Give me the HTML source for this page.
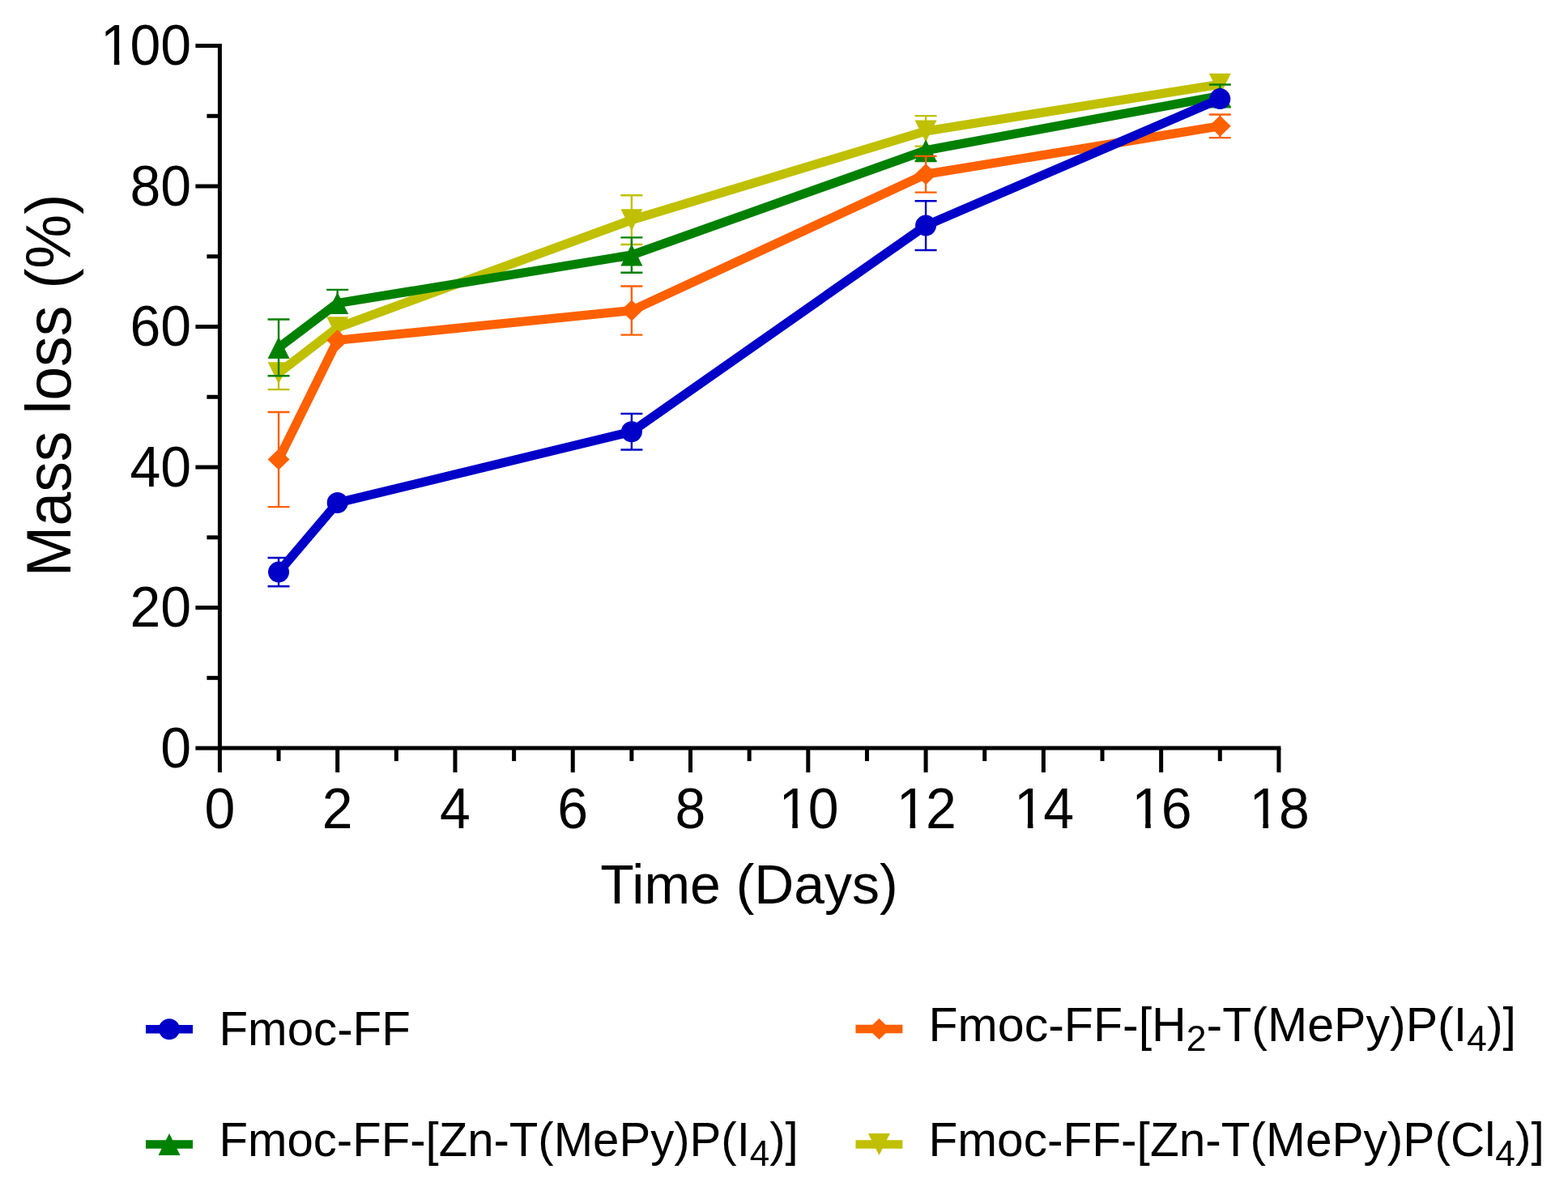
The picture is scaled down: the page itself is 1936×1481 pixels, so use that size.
<!DOCTYPE html>
<html><head><meta charset="utf-8"><title>Mass loss</title>
<style>html,body{margin:0;padding:0;background:#fff;overflow:hidden;width:1936px;height:1481px;}svg{display:block;}text{font-family:"Liberation Sans",Arial,sans-serif;fill:#000;}</style>
</head><body>
<svg width="1936" height="1481" viewBox="0 0 1936 1481">
<rect x="0" y="0" width="1936" height="1481" fill="#fff"/>
<g id="data"><path d="M344.04,460.80V481.10M330.54,481.10H357.54" stroke="#C0C000" stroke-width="2.4" fill="none"/><path d="M779.88,271.66V241.30M766.38,241.30H793.38M779.88,271.66V302.03M766.38,302.03H793.38" stroke="#C0C000" stroke-width="2.4" fill="none"/><path d="M1143.08,161.91V143.17M1129.58,143.17H1156.58M1143.08,161.91V180.65M1129.58,180.65H1156.58" stroke="#C0C000" stroke-width="2.4" fill="none"/><polyline points="344.04,460.80 416.68,404.75 779.88,271.66 1143.08,161.91 1506.28,104.22" stroke="#C0C000" stroke-width="11.2" fill="none" stroke-linejoin="miter" stroke-linecap="butt"/><polygon points="330.54,447.30 357.54,447.30 344.04,474.30" fill="#C0C000"/><polygon points="403.18,391.25 430.18,391.25 416.68,418.25" fill="#C0C000"/><polygon points="766.38,258.16 793.38,258.16 779.88,285.16" fill="#C0C000"/><polygon points="1129.58,148.41 1156.58,148.41 1143.08,175.41" fill="#C0C000"/><polygon points="1492.78,90.72 1519.78,90.72 1506.28,117.72" fill="#C0C000"/><path d="M344.04,429.39V394.52M330.54,394.52H357.54M344.04,429.39V464.27M330.54,464.27H357.54" stroke="#008000" stroke-width="2.4" fill="none"/><path d="M416.68,374.56V357.90M403.18,357.90H430.18" stroke="#008000" stroke-width="2.4" fill="none"/><path d="M779.88,315.04V293.35M766.38,293.35H793.38M779.88,315.04V336.73M766.38,336.73H793.38" stroke="#008000" stroke-width="2.4" fill="none"/><path d="M1143.08,185.69V199.13M1129.58,199.13H1156.58" stroke="#008000" stroke-width="2.4" fill="none"/><path d="M1506.28,118.45V104.48M1492.78,104.48H1519.78M1506.28,118.45V132.41M1492.78,132.41H1519.78" stroke="#008000" stroke-width="2.4" fill="none"/><polyline points="344.04,429.39 416.68,374.56 779.88,315.04 1143.08,185.69 1506.28,118.45" stroke="#008000" stroke-width="11.2" fill="none" stroke-linejoin="miter" stroke-linecap="butt"/><polygon points="344.04,415.89 357.54,442.89 330.54,442.89" fill="#008000"/><polygon points="416.68,361.06 430.18,388.06 403.18,388.06" fill="#008000"/><polygon points="779.88,301.54 793.38,328.54 766.38,328.54" fill="#008000"/><polygon points="1143.08,172.19 1156.58,199.19 1129.58,199.19" fill="#008000"/><polygon points="1506.28,104.95 1519.78,131.95 1492.78,131.95" fill="#008000"/><path d="M344.04,567.52V508.95M330.54,508.95H357.54M344.04,567.52V626.08M330.54,626.08H357.54" stroke="#FF6000" stroke-width="2.4" fill="none"/><path d="M779.88,383.59V353.57M766.38,353.57H793.38M779.88,383.59V413.60M766.38,413.60H793.38" stroke="#FF6000" stroke-width="2.4" fill="none"/><path d="M1143.08,215.27V192.89M1129.58,192.89H1156.58M1143.08,215.27V237.65M1129.58,237.65H1156.58" stroke="#FF6000" stroke-width="2.4" fill="none"/><path d="M1506.28,155.84V141.52M1492.78,141.52H1519.78M1506.28,155.84V170.16M1492.78,170.16H1519.78" stroke="#FF6000" stroke-width="2.4" fill="none"/><polyline points="344.04,567.52 416.68,420.28 779.88,383.59 1143.08,215.27 1506.28,155.84" stroke="#FF6000" stroke-width="11.2" fill="none" stroke-linejoin="miter" stroke-linecap="butt"/><polygon points="344.04,554.52 357.54,567.52 344.04,580.52 330.54,567.52" fill="#FF6000"/><polygon points="416.68,407.28 430.18,420.28 416.68,433.28 403.18,420.28" fill="#FF6000"/><polygon points="779.88,370.59 793.38,383.59 779.88,396.59 766.38,383.59" fill="#FF6000"/><polygon points="1143.08,202.27 1156.58,215.27 1143.08,228.27 1129.58,215.27" fill="#FF6000"/><polygon points="1506.28,142.84 1519.78,155.84 1506.28,168.84 1492.78,155.84" fill="#FF6000"/><path d="M344.04,706.59V688.98M330.54,688.98H357.54M344.04,706.59V724.20M330.54,724.20H357.54" stroke="#0000C8" stroke-width="2.4" fill="none"/><path d="M779.88,533.25V511.04M766.38,511.04H793.38M779.88,533.25V555.46M766.38,555.46H793.38" stroke="#0000C8" stroke-width="2.4" fill="none"/><path d="M1143.08,278.61V248.24M1129.58,248.24H1156.58M1143.08,278.61V308.97M1129.58,308.97H1156.58" stroke="#0000C8" stroke-width="2.4" fill="none"/><polyline points="344.04,706.59 416.68,621.05 779.88,533.25 1143.08,278.61 1506.28,122.09" stroke="#0000C8" stroke-width="11.2" fill="none" stroke-linejoin="miter" stroke-linecap="butt"/><circle cx="344.04" cy="706.59" r="13.00" fill="#0000C8"/><circle cx="416.68" cy="621.05" r="13.00" fill="#0000C8"/><circle cx="779.88" cy="533.25" r="13.00" fill="#0000C8"/><circle cx="1143.08" cy="278.61" r="13.00" fill="#0000C8"/><circle cx="1506.28" cy="122.09" r="13.00" fill="#0000C8"/></g>
<g id="axes"><path d="M271.40,54.00V924.10H1581.42" stroke="#000" stroke-width="5.0" fill="none" stroke-linejoin="miter"/><path d="M241.40,924.10H271.40" stroke="#000" stroke-width="5.0"/><path d="M255.40,837.34H271.40" stroke="#000" stroke-width="5.0"/><path d="M241.40,750.58H271.40" stroke="#000" stroke-width="5.0"/><path d="M255.40,663.82H271.40" stroke="#000" stroke-width="5.0"/><path d="M241.40,577.06H271.40" stroke="#000" stroke-width="5.0"/><path d="M255.40,490.30H271.40" stroke="#000" stroke-width="5.0"/><path d="M241.40,403.54H271.40" stroke="#000" stroke-width="5.0"/><path d="M255.40,316.78H271.40" stroke="#000" stroke-width="5.0"/><path d="M241.40,230.02H271.40" stroke="#000" stroke-width="5.0"/><path d="M255.40,143.26H271.40" stroke="#000" stroke-width="5.0"/><path d="M241.40,56.50H271.40" stroke="#000" stroke-width="5.0"/><path d="M271.40,924.10V954.10" stroke="#000" stroke-width="5.0"/><path d="M344.04,924.10V940.10" stroke="#000" stroke-width="5.0"/><path d="M416.68,924.10V954.10" stroke="#000" stroke-width="5.0"/><path d="M489.32,924.10V940.10" stroke="#000" stroke-width="5.0"/><path d="M561.96,924.10V954.10" stroke="#000" stroke-width="5.0"/><path d="M634.60,924.10V940.10" stroke="#000" stroke-width="5.0"/><path d="M707.24,924.10V954.10" stroke="#000" stroke-width="5.0"/><path d="M779.88,924.10V940.10" stroke="#000" stroke-width="5.0"/><path d="M852.52,924.10V954.10" stroke="#000" stroke-width="5.0"/><path d="M925.16,924.10V940.10" stroke="#000" stroke-width="5.0"/><path d="M997.80,924.10V954.10" stroke="#000" stroke-width="5.0"/><path d="M1070.44,924.10V940.10" stroke="#000" stroke-width="5.0"/><path d="M1143.08,924.10V954.10" stroke="#000" stroke-width="5.0"/><path d="M1215.72,924.10V940.10" stroke="#000" stroke-width="5.0"/><path d="M1288.36,924.10V954.10" stroke="#000" stroke-width="5.0"/><path d="M1361.00,924.10V940.10" stroke="#000" stroke-width="5.0"/><path d="M1433.64,924.10V954.10" stroke="#000" stroke-width="5.0"/><path d="M1506.28,924.10V940.10" stroke="#000" stroke-width="5.0"/><path d="M1578.92,924.10V954.10" stroke="#000" stroke-width="5.0"/></g>
<g transform="translate(236.00,947.80) scale(0.9662,1)"><text x="-39.14" y="0" font-size="70.38">0</text></g><g transform="translate(236.00,774.28) scale(0.9662,1)"><text x="-78.28 -39.14" y="0" font-size="70.38">20</text></g><g transform="translate(236.00,600.76) scale(0.9662,1)"><text x="-78.28 -39.14" y="0" font-size="70.38">40</text></g><g transform="translate(236.00,427.24) scale(0.9662,1)"><text x="-78.28 -39.14" y="0" font-size="70.38">60</text></g><g transform="translate(236.00,253.72) scale(0.9662,1)"><text x="-78.28 -39.14" y="0" font-size="70.38">80</text></g><g transform="translate(236.00,80.20) scale(0.9662,1)"><text x="-115.87 -78.28 -39.14" y="0" font-size="70.38">100</text><rect x="-113.01" y="-7.76" width="14.54" height="10.26" fill="#fff"/><rect x="-91.66" y="-7.76" width="14.29" height="10.26" fill="#fff"/></g><g transform="translate(271.40,1022.80) scale(0.9662,1)"><text x="-19.57" y="0" font-size="70.38">0</text></g><g transform="translate(416.68,1022.80) scale(0.9662,1)"><text x="-19.57" y="0" font-size="70.38">2</text></g><g transform="translate(561.96,1022.80) scale(0.9662,1)"><text x="-19.57" y="0" font-size="70.38">4</text></g><g transform="translate(707.24,1022.80) scale(0.9662,1)"><text x="-19.57" y="0" font-size="70.38">6</text></g><g transform="translate(852.52,1022.80) scale(0.9662,1)"><text x="-19.57" y="0" font-size="70.38">8</text></g><g transform="translate(997.80,1022.80) scale(0.9662,1)"><text x="-37.59 0.00" y="0" font-size="70.38">10</text><rect x="-34.73" y="-7.76" width="14.54" height="10.26" fill="#fff"/><rect x="-13.37" y="-7.76" width="14.29" height="10.26" fill="#fff"/></g><g transform="translate(1143.08,1022.80) scale(0.9662,1)"><text x="-37.59 0.00" y="0" font-size="70.38">12</text><rect x="-34.73" y="-7.76" width="14.54" height="10.26" fill="#fff"/><rect x="-13.37" y="-7.76" width="14.29" height="10.26" fill="#fff"/></g><g transform="translate(1288.36,1022.80) scale(0.9662,1)"><text x="-37.59 0.00" y="0" font-size="70.38">14</text><rect x="-34.73" y="-7.76" width="14.54" height="10.26" fill="#fff"/><rect x="-13.37" y="-7.76" width="14.29" height="10.26" fill="#fff"/></g><g transform="translate(1433.64,1022.80) scale(0.9662,1)"><text x="-37.59 0.00" y="0" font-size="70.38">16</text><rect x="-34.73" y="-7.76" width="14.54" height="10.26" fill="#fff"/><rect x="-13.37" y="-7.76" width="14.29" height="10.26" fill="#fff"/></g><g transform="translate(1578.92,1022.80) scale(0.9662,1)"><text x="-37.59 0.00" y="0" font-size="70.38">18</text><rect x="-34.73" y="-7.76" width="14.54" height="10.26" fill="#fff"/><rect x="-13.37" y="-7.76" width="14.29" height="10.26" fill="#fff"/></g>
<text transform="translate(925.0,1115.6) scale(0.979,1)" x="0" y="0" font-size="69.4" text-anchor="middle">Time (Days)</text>
<text transform="translate(86.8,476.05) rotate(-90) scale(0.978,1)" x="0" y="0" font-size="77" text-anchor="middle">Mass loss (%)</text>
<path d="M180.00,1271.30H238.00" stroke="#0000C8" stroke-width="10.5"/><circle cx="209.00" cy="1271.30" r="13.00" fill="#0000C8"/><path d="M1056.50,1271.00H1114.40" stroke="#FF6000" stroke-width="10.5"/><polygon points="1085.45,1258.00 1098.95,1271.00 1085.45,1284.00 1071.95,1271.00" fill="#FF6000"/><path d="M180.00,1413.50H238.00" stroke="#008000" stroke-width="10.5"/><polygon points="209.00,1400.00 222.50,1427.00 195.50,1427.00" fill="#008000"/><path d="M1056.50,1413.50H1114.40" stroke="#C0C000" stroke-width="10.5"/><polygon points="1071.95,1400.00 1098.95,1400.00 1085.45,1427.00" fill="#C0C000"/><text transform="translate(270.50,1291.20) scale(0.9756,1)" x="0" y="0" font-size="59.76">Fmoc-FF</text><text transform="translate(1146.50,1285.70) scale(0.9887,1)" x="0" y="0" font-size="59.76">Fmoc-FF-[H<tspan font-size="45.10" dy="12">2</tspan><tspan dy="-12">-T(MePy)P(I</tspan><tspan font-size="45.10" dy="12">4</tspan><tspan dy="-12">)]</tspan></text><text transform="translate(270.50,1428.30) scale(0.9727,1)" x="0" y="0" font-size="59.76">Fmoc-FF-[Zn-T(MePy)P(I<tspan font-size="45.10" dy="12">4</tspan><tspan dy="-12">)]</tspan></text><text transform="translate(1146.50,1428.30) scale(0.9808,1)" x="0" y="0" font-size="59.76">Fmoc-FF-[Zn-T(MePy)P(Cl<tspan font-size="45.10" dy="12">4</tspan><tspan dy="-12">)]</tspan></text>
</svg></body></html>
